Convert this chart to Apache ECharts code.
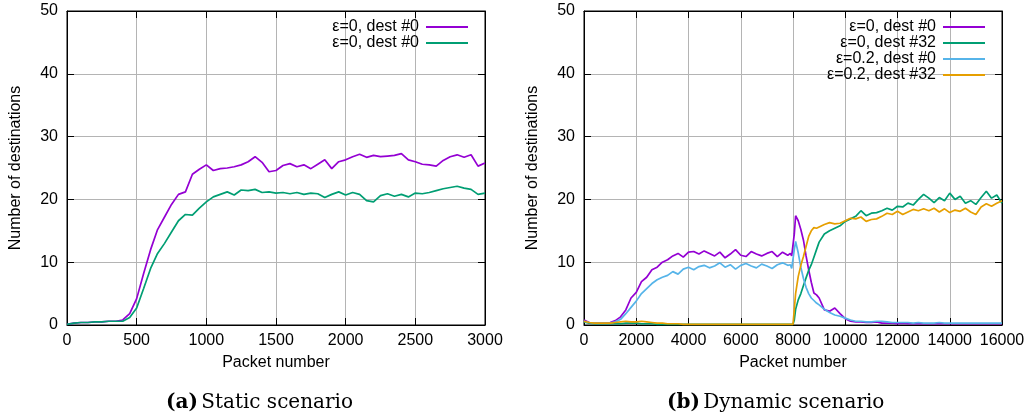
<!DOCTYPE html>
<html>
<head>
<meta charset="utf-8">
<script src="https://cdn.jsdelivr.net/npm/echarts@6/dist/echarts.min.js"></script>
<style>
html,body{margin:0;padding:0;background:#fff;}
#chart{width:1029px;height:419px;}
</style>
</head>
<body>
<div id="chart"></div>
<script>
// ---------- data ----------
const staticX = [0,50,100,150,200,250,300,350,400,450,500,550,600,650,700,750,800,850,900,950,
  1000,1050,1100,1150,1200,1250,1300,1350,1400,1450,1500,1550,1600,1650,1700,1750,1800,1850,1900,1950,
  2000,2050,2100,2150,2200,2250,2300,2350,2400,2450,2500,2550,2600,2650,2700,2750,2800,2850,2900,2950,3000];
const staticPurple = [0.1,0.3,0.4,0.4,0.5,0.5,0.6,0.6,0.8,1.8,4.2,8.2,12.0,15.2,17.2,19.2,20.8,21.2,24.0,24.8,
  25.5,24.6,24.9,25.0,25.2,25.5,26.0,26.8,25.9,24.4,24.6,25.4,25.7,25.2,25.5,24.9,25.6,26.3,24.9,26.0,
  26.3,26.8,27.2,26.7,27.0,26.8,26.9,27.0,27.3,26.3,26.0,25.6,25.5,25.3,26.2,26.8,27.1,26.7,27.1,25.3,25.8];
const staticGreen = [0.1,0.3,0.4,0.4,0.5,0.5,0.6,0.6,0.6,1.2,2.7,5.8,9.0,11.4,13.0,14.8,16.6,17.6,17.5,18.6,
  19.6,20.4,20.8,21.2,20.7,21.5,21.4,21.6,21.1,21.2,21.0,21.1,20.9,21.1,20.8,21.0,20.9,20.3,20.8,21.2,
  20.7,21.1,20.8,19.8,19.6,20.6,20.9,20.5,20.8,20.4,21.0,20.9,21.1,21.4,21.7,21.9,22.1,21.8,21.6,20.8,21.0];

const dynX = [0,200,400,600,800,1000,1200,1400,1600,1800,2000,2200,2400,2600,2800,3000,3200,3400,3600,3800,
  4000,4200,4400,4600,4800,5000,5200,5400,5600,5800,6000,6200,6400,6600,6800,7000,7200,7400,7600,7800,
  7900,7950,8000,8050,8100,8200,8300,8400,8500,8600,8700,8800,8900,9000,
  9200,9400,9600,9800,10000,10200,10400,10600,10800,11000,11200,11400,11600,11800,12000,12200,12400,12600,
  12800,13000,13200,13400,13600,13800,14000,14200,14400,14600,14800,15000,15200,15400,15600,15800,16000];
const dynPurple = [0.8,0.4,0.3,0.3,0.3,0.4,0.7,1.3,2.4,4.3,5.2,6.9,7.6,8.8,9.2,10.0,10.4,11.0,11.4,10.8,
  11.6,11.7,11.3,11.8,11.4,11.0,11.6,10.7,11.3,12.0,11.1,10.9,11.7,11.3,11.0,11.4,11.7,10.9,11.6,11.1,
  11.4,11.0,11.2,14.5,17.4,16.6,15.2,13.5,11.0,8.8,6.8,5.1,4.8,4.3,
  2.4,2.2,2.7,1.8,1.0,0.6,0.5,0.5,0.4,0.4,0.5,0.3,0.3,0.3,0.2,0.3,0.2,0.2,
  0.2,0.2,0.2,0.2,0.2,0.2,0.2,0.2,0.2,0.2,0.2,0.2,0.2,0.2,0.2,0.2,0.2];
const dynGreen = [0.5,0.3,0.2,0.2,0.2,0.2,0.2,0.2,0.3,0.3,0.3,0.2,0.2,0.2,0.1,0.1,0.1,0.1,0.1,0.1,
  0.1,0.1,0.1,0.1,0.1,0.1,0.1,0.1,0.1,0.1,0.1,0.1,0.1,0.1,0.1,0.1,0.1,0.1,0.1,0.1,
  0.1,0.1,0.1,0.8,2.5,4.0,5.0,6.3,7.5,8.7,9.6,10.8,12.0,13.2,
  14.5,15.0,15.4,15.8,16.5,16.9,17.3,18.2,17.4,17.8,17.9,18.2,18.6,18.3,18.9,18.8,19.4,19.1,
  20.0,20.8,20.2,19.5,20.3,19.8,21.0,20.0,20.5,19.4,19.8,19.2,20.3,21.3,20.2,20.7,19.4];
const dynBlue = [0.6,0.4,0.3,0.3,0.3,0.3,0.5,0.9,1.8,2.8,3.8,5.0,5.8,6.6,7.2,7.6,7.9,8.5,8.1,8.9,
  9.2,8.8,9.3,9.5,9.1,9.4,9.9,9.2,9.6,8.9,9.5,9.8,9.4,9.1,9.7,9.4,9.0,9.6,9.9,9.5,
  9.6,9.0,8.9,12.0,13.3,11.5,9.2,7.4,6.0,5.0,4.3,3.9,3.5,3.2,
  2.5,2.0,1.6,1.4,1.1,0.8,0.6,0.6,0.5,0.5,0.6,0.6,0.5,0.4,0.4,0.4,0.4,0.3,
  0.4,0.3,0.3,0.3,0.4,0.3,0.3,0.3,0.3,0.3,0.3,0.3,0.3,0.3,0.3,0.3,0.3];
const dynOrange = [0.6,0.4,0.3,0.3,0.3,0.3,0.4,0.5,0.6,0.5,0.5,0.6,0.5,0.4,0.3,0.3,0.2,0.2,0.2,0.1,
  0.1,0.1,0.1,0.1,0.1,0.1,0.1,0.1,0.1,0.1,0.1,0.1,0.1,0.1,0.1,0.1,0.1,0.1,0.1,0.1,
  0.1,0.1,0.1,2.5,5.0,7.7,9.5,10.9,12.5,14.1,15.0,15.5,15.4,15.6,
  16.0,16.3,16.1,16.2,16.6,17.0,16.9,17.2,16.5,16.8,16.9,17.3,17.8,17.6,18.1,17.6,18.0,18.4,
  18.2,18.5,18.2,18.6,18.0,18.5,17.9,18.3,18.1,18.6,18.0,17.6,18.8,19.3,18.9,19.4,19.8];

const staticNames = ['ε=0, dest #0', 'ε=0, dest #0'];
const dynNames = ['ε=0, dest #0', 'ε=0, dest #32', 'ε=0.2, dest #0', 'ε=0.2, dest #32'];
const captions = [['(a)', 'Static scenario'], ['(b)', 'Dynamic scenario']];
const xName = 'Packet number';
const yName = 'Number of destinations';

// ---------- helpers ----------
const COLORS = {purple:'#9400d3', green:'#009e73', blue:'#56b4e9', orange:'#e69f00'};
const FONT = 'Liberation Sans, Arial, sans-serif';
const SERIF = 'DejaVu Serif, serif';
const FS = 16;
const zip = (xs, ys) => xs.map((x, i) => [x, ys[i]]);
// unique keys for the legend (zero-width spaces), stripped on display
const key = (name, n) => name + '\u200b'.repeat(n);

const G = [{left:67, top:11, width:418, height:314}, {left:584, top:11, width:418, height:314}];

function xAxisMain(gi, max, interval){
  return {type:'value', gridIndex:gi, min:0, max:max, interval:interval, position:'bottom',
    name:xName, nameLocation:'middle', nameGap:30,
    nameTextStyle:{fontFamily:FONT, fontSize:FS, color:'#000'},
    axisLine:{show:true, onZero:false, lineStyle:{color:'#000', width:1}},
    axisTick:{show:true, inside:true, length:7, lineStyle:{color:'#000'}},
    axisLabel:{fontFamily:FONT, fontSize:FS, color:'#000', margin:8, formatter:(v)=>String(v)},
    splitLine:{show:true, lineStyle:{color:'#b4b4b4', width:1}}};
}
function xAxisMirror(gi, max, interval){
  return {type:'value', gridIndex:gi, min:0, max:max, interval:interval, position:'top',
    axisLine:{show:true, onZero:false, lineStyle:{color:'#000'}},
    axisTick:{show:true, inside:true, length:7, lineStyle:{color:'#000'}},
    axisLabel:{show:false}, splitLine:{show:false}};
}
function yAxisMain(gi){
  return {type:'value', gridIndex:gi, min:0, max:50, interval:10, position:'left',
    name:yName, nameLocation:'middle', nameGap:43, nameRotate:90,
    nameTextStyle:{fontFamily:FONT, fontSize:FS, color:'#000'},
    axisLine:{show:true, onZero:false, lineStyle:{color:'#000'}},
    axisTick:{show:true, inside:true, length:7, lineStyle:{color:'#000'}},
    axisLabel:{fontFamily:FONT, fontSize:FS, color:'#000', margin:9, formatter:(v)=>String(v)},
    splitLine:{show:true, lineStyle:{color:'#b4b4b4', width:1}}};
}
function yAxisMirror(gi){
  return {type:'value', gridIndex:gi, min:0, max:50, interval:10, position:'right',
    axisLine:{show:true, onZero:false, lineStyle:{color:'#000'}},
    axisTick:{show:true, inside:true, length:7, lineStyle:{color:'#000'}},
    axisLabel:{show:false}, splitLine:{show:false}};
}
function line(name, data, color, xi, yi){
  return {type:'line', name:name, data:data, xAxisIndex:xi, yAxisIndex:yi,
    showSymbol:false, symbol:'none', animation:false,
    lineStyle:{color:color, width:1.7}, itemStyle:{color:color}};
}
function legend(names, right){
  return {orient:'vertical', right:right, top:19, padding:0, align:'right', data:names,
    icon:'rect', itemWidth:42, itemHeight:2, itemGap:0, selectedMode:false,
    formatter:(n)=>n.replace(/\u200b/g,''),
    textStyle:{fontFamily:FONT, fontSize:FS, color:'#000', lineHeight:15.5, padding:[0,2,0,0]}};
}
function caption(c, left){
  return {type:'text', left:left, top:393, style:{text:'{b|'+c[0]+'} {n|'+c[1]+'}',
    rich:{b:{fontFamily:SERIF, fontWeight:'bold', fontSize:20, fill:'#000'},
          n:{fontFamily:SERIF, fontSize:20, fill:'#000'}}}};
}

const sKeys = [key(staticNames[0],0), key(staticNames[1],1)];
const dKeys = dynNames.map((n,i)=>key(n, i+2));

const option = {
  backgroundColor:'#fff',
  animation:false,
  grid: G.map(g => Object.assign({show:true, borderColor:'#000', borderWidth:1, backgroundColor:'transparent'}, g)),
  xAxis:[xAxisMain(0,3000,500), xAxisMain(1,16000,2000), xAxisMirror(0,3000,500), xAxisMirror(1,16000,2000)],
  yAxis:[yAxisMain(0), yAxisMain(1), yAxisMirror(0), yAxisMirror(1)],
  legend:[legend(sKeys, 561), legend(dKeys, 44)],
  series:[
    line(sKeys[0], zip(staticX, staticPurple), COLORS.purple, 0, 0),
    line(sKeys[1], zip(staticX, staticGreen), COLORS.green, 0, 0),
    line(dKeys[0], zip(dynX, dynPurple), COLORS.purple, 1, 1),
    line(dKeys[1], zip(dynX, dynGreen), COLORS.green, 1, 1),
    line(dKeys[2], zip(dynX, dynBlue), COLORS.blue, 1, 1),
    line(dKeys[3], zip(dynX, dynOrange), COLORS.orange, 1, 1)
  ],
  graphic:[caption(captions[0], 166), caption(captions[1], 667)]
};

const chart = echarts.init(document.getElementById('chart'), null, {renderer:'canvas'});
chart.setOption(option);
</script>
</body>
</html>
